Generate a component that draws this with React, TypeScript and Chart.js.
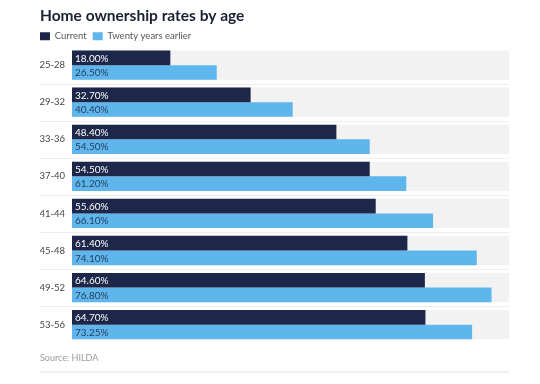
import React, { useEffect, useRef } from 'react';
import { Chart, registerables } from 'chart.js';

Chart.register(...registerables);

const categories = ['25-28', '29-32', '33-36', '37-40', '41-44', '45-48', '49-52', '53-56'];
const currentRates = [18.0, 32.7, 48.4, 54.5, 55.6, 61.4, 64.6, 64.7];
const earlierRates = [26.5, 40.4, 54.5, 61.2, 66.1, 74.1, 76.8, 73.25];
const trackValues = [80, 80, 80, 80, 80, 80, 80, 80];
const seriesNames = ['Current', 'Twenty years earlier'];
const axisMax = 80;
const titleText = 'Home ownership rates by age';
const sourceText = 'Source: HILDA';

const DARK = '#1c2749';
const LIGHT = '#5fb6ec';
const TRACK = '#f2f2f2';
const FONT = 'Lato';
const LEGEND_PAD = 6;

const separatorPlugin = {
  id: 'separators',
  afterLayout(chart: any) {
    const lg = chart.legend;
    if (lg) {
      lg.left -= LEGEND_PAD;
      lg.right -= LEGEND_PAD;
    }
  },
  beforeDatasetsDraw(chart: any) {
    const y = chart.scales.y;
    const { ctx, chartArea } = chart;
    ctx.save();
    ctx.strokeStyle = '#eeeeee';
    ctx.lineWidth = 1;
    for (let i = 1; i < categories.length; i++) {
      const py = Math.round((y.getPixelForValue(i - 1) + y.getPixelForValue(i)) / 2) + 0.5;
      ctx.beginPath();
      ctx.moveTo(y.left, py);
      ctx.lineTo(chartArea.right, py);
      ctx.stroke();
    }
    ctx.restore();
  },
  afterDraw(chart: any) {
    const { ctx, chartArea } = chart;
    ctx.save();
    ctx.strokeStyle = '#efefef';
    ctx.lineWidth = 2;
    ctx.beginPath();
    ctx.moveTo(chart.scales.y.left, 372);
    ctx.lineTo(chartArea.right, 372);
    ctx.stroke();
    ctx.restore();
  },
};

const barLabelPlugin = {
  id: 'barLabels',
  afterDatasetsDraw(chart: any) {
    const { ctx } = chart;
    ctx.save();
    ctx.font = `10px ${FONT}`;
    ctx.textAlign = 'left';
    ctx.textBaseline = 'middle';
    [0, 1].forEach((di) => {
      const meta = chart.getDatasetMeta(di);
      const data = chart.data.datasets[di].data as number[];
      ctx.fillStyle = di === 0 ? '#ffffff' : '#27405f';
      meta.data.forEach((el: any, i: number) => {
        const p = el.getProps(['x', 'y', 'base'], true);
        ctx.fillText(data[i].toFixed(2) + '%', p.base + 3, p.y + 0.5);
      });
    });
    ctx.restore();
  },
};

export default function App() {
  const ref = useRef<HTMLCanvasElement | null>(null);

  useEffect(() => {
    document.body.style.margin = '0';
    if (!ref.current) return;
    Chart.defaults.font.family = FONT;
    const chart = new Chart(ref.current, {
      type: 'bar',
      data: {
        labels: categories,
        datasets: [
          {
            label: seriesNames[0],
            data: currentRates,
            backgroundColor: DARK,
            categoryPercentage: 0.79,
            barPercentage: 1,
            order: 0,
          },
          {
            label: seriesNames[1],
            data: earlierRates,
            backgroundColor: LIGHT,
            categoryPercentage: 0.79,
            barPercentage: 1,
            order: 0,
          },
          {
            label: 'track',
            data: trackValues,
            backgroundColor: TRACK,
            categoryPercentage: 0.79,
            barPercentage: 1,
            grouped: false,
            order: 1,
          } as any,
        ],
      },
      options: {
        indexAxis: 'y',
        responsive: false,
        animation: false,
        layout: { padding: { left: 40, right: 31, top: 0, bottom: 0 } },
        scales: {
          x: { display: false, min: 0, max: axisMax },
          y: {
            grid: { display: false, drawTicks: false },
            border: { display: false },
            ticks: { font: { family: FONT, size: 9.5 }, color: '#444444', padding: 7 },
            afterFit(scale: any) {
              scale.width = 32;
            },
          },
        },
        plugins: {
          title: {
            display: true,
            text: titleText,
            align: 'start',
            color: '#1a2033',
            font: { family: FONT, size: 15.5, weight: 'bold' },
            padding: { top: 7, bottom: 0 },
          },
          subtitle: {
            display: true,
            text: sourceText,
            position: 'bottom',
            align: 'start',
            color: '#9a9a9a',
            font: { family: FONT, size: 9 },
            padding: { top: 9, bottom: 21 },
          },
          legend: {
            position: 'top',
            align: 'start',
            maxHeight: 21,
            labels: {
              boxWidth: 10,
              boxHeight: 8,
              padding: LEGEND_PAD,
              color: '#555555',
              font: { family: FONT, size: 9.5 },
              filter: (item: any) => item.datasetIndex < 2,
            },
          },
          tooltip: { enabled: false },
        },
      },
      plugins: [separatorPlugin, barLabelPlugin],
    });
    return () => chart.destroy();
  }, []);

  return (
    <div style={{ width: 540, height: 384, background: '#ffffff' }}>
      <canvas ref={ref} width={540} height={384} style={{ display: 'block' }} />
    </div>
  );
}
